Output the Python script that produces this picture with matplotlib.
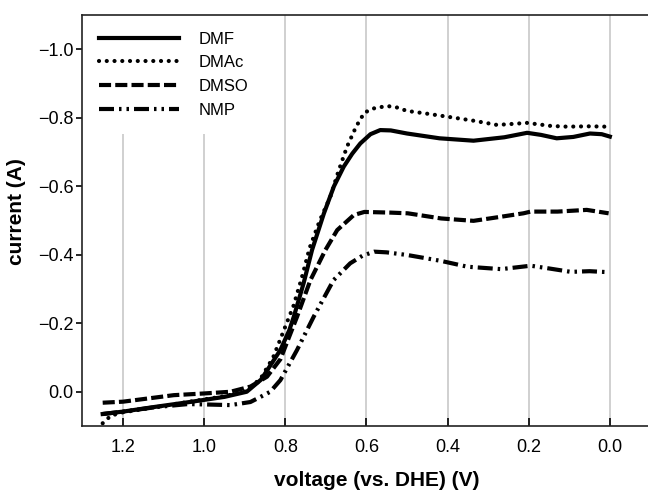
import matplotlib
matplotlib.use("Agg")
import matplotlib.pyplot as plt

plt.rcParams['font.family'] = ['Liberation Sans', 'DejaVu Sans']

# DMF (solid)
dmf_v = [1.25, 1.20, 1.12, 1.03, 0.95, 0.895, 0.86, 0.835, 0.812, 0.79, 0.779, 0.755, 0.734,
         0.705, 0.68, 0.656, 0.635, 0.615, 0.59, 0.566, 0.54, 0.50, 0.42, 0.336, 0.26, 0.204,
         0.17, 0.131, 0.09, 0.049, 0.02, 0.0]
dmf_i = [0.065, 0.058, 0.044, 0.029, 0.015, 0.0, -0.035, -0.08, -0.122, -0.18, -0.219, -0.316, -0.414,
         -0.52, -0.60, -0.657, -0.695, -0.725, -0.752, -0.764, -0.763, -0.754, -0.74, -0.733, -0.743, -0.756,
         -0.75, -0.74, -0.744, -0.754, -0.752, -0.745]

# DMAc (dotted)
dmac_v = [1.25, 1.23, 1.20, 1.12, 1.03, 0.95, 0.895, 0.86, 0.83, 0.80, 0.78, 0.76, 0.74, 0.715,
          0.689, 0.67, 0.648, 0.625, 0.605, 0.58, 0.55, 0.53, 0.50, 0.457, 0.40, 0.334, 0.278,
          0.24, 0.204, 0.145, 0.106, 0.05, 0.01]
dmac_i = [0.092, 0.07, 0.06, 0.045, 0.028, 0.013, -0.002, -0.04, -0.10, -0.19, -0.25, -0.33, -0.42, -0.50,
          -0.569, -0.64, -0.715, -0.775, -0.815, -0.828, -0.834, -0.832, -0.82, -0.813, -0.803, -0.791, -0.779,
          -0.782, -0.785, -0.776, -0.774, -0.775, -0.774]

# DMSO (dashed)
dmso_v = [1.25, 1.20, 1.075, 1.0, 0.935, 0.886, 0.845, 0.812, 0.771, 0.738, 0.701, 0.672, 0.631,
          0.605, 0.54, 0.498, 0.416, 0.336, 0.268, 0.213, 0.195, 0.129, 0.057, 0.003]
dmso_i = [0.032, 0.029, 0.01, 0.005, 0.0, -0.015, -0.044, -0.095, -0.219, -0.326, -0.414, -0.472, -0.516,
          -0.525, -0.523, -0.521, -0.506, -0.499, -0.511, -0.521, -0.526, -0.526, -0.531, -0.521]

# NMP (dash-dot-dot)
nmp_v = [1.25, 1.20, 1.12, 1.04, 1.0, 0.935, 0.886, 0.861, 0.837, 0.812, 0.771, 0.73, 0.681, 0.64,
         0.61, 0.581, 0.55, 0.498, 0.416, 0.351, 0.268, 0.195, 0.15, 0.096, 0.05, 0.002]
nmp_i = [0.065, 0.058, 0.045, 0.036, 0.037, 0.039, 0.03, 0.015, 0.0, -0.034, -0.122, -0.219, -0.326, -0.375,
         -0.397, -0.409, -0.407, -0.399, -0.382, -0.365, -0.358, -0.368, -0.36, -0.35, -0.352, -0.349]

x_ticks = [1.2, 1.0, 0.8, 0.6, 0.4, 0.2, 0.0]
y_ticks = [0.0, -0.2, -0.4, -0.6, -0.8, -1.0]

fig = plt.figure(figsize=(6.48, 4.9), dpi=100)
ax = fig.add_axes([82 / 648, 64 / 490, 566 / 648, 411 / 490])

lw = 3.0
ax.plot(dmf_v, dmf_i, color="black", lw=lw, label="DMF")
ax.plot(dmac_v, dmac_i, color="black", lw=lw, linestyle=(0, (0.01, 1.85)),
        dash_capstyle="round", label="DMAc")
ax.plot(dmso_v, dmso_i, color="black", lw=lw, linestyle=(0, (2.9, 1.0)), label="DMSO")
ax.plot(nmp_v, nmp_i, color="black", lw=lw,
        linestyle=(0, (3.6, 1.2, 0.6, 1.2, 0.6, 1.2)), label="NMP")

ax.set_xlim(1.301, -0.094)
ax.set_ylim(0.1, -1.1)
ax.set_xticks(x_ticks)
ax.set_xticklabels(["%.1f" % v for v in x_ticks])
ax.set_yticks(y_ticks)
ax.set_yticklabels([("%.1f" % v).replace("-", "\u2212") for v in y_ticks])

ax.grid(axis="x", color="#c8c8c8", lw=1.2)
ax.set_axisbelow(True)

ax.spines["right"].set_visible(False)
for s in ["left", "bottom", "top"]:
    ax.spines[s].set_linewidth(1.2)
    ax.spines[s].set_color("#222222")

ax.tick_params(axis="y", direction="out", length=4, width=1.2, labelsize=13, pad=2)
ax.tick_params(axis="x", direction="in", length=6, width=1.2, labelsize=13, pad=9)

ax.set_xlabel("voltage (vs. DHE) (V)", fontsize=15, fontweight="bold")
ax.set_ylabel("current (A)", fontsize=15, fontweight="bold")
ax.xaxis.set_label_coords(0.521, -0.109)
ax.yaxis.set_label_coords(-0.099, 0.522)

leg = ax.legend(loc="upper left", fontsize=12, handlelength=4.8, labelspacing=0.52,
                borderpad=1.0, borderaxespad=0.0, handletextpad=1.2,
                frameon=True, fancybox=False, framealpha=1.0)
leg.get_frame().set_edgecolor("none")
leg.get_frame().set_facecolor("white")
leg.set_zorder(2.2)

fig.savefig("out.png", dpi=100)
